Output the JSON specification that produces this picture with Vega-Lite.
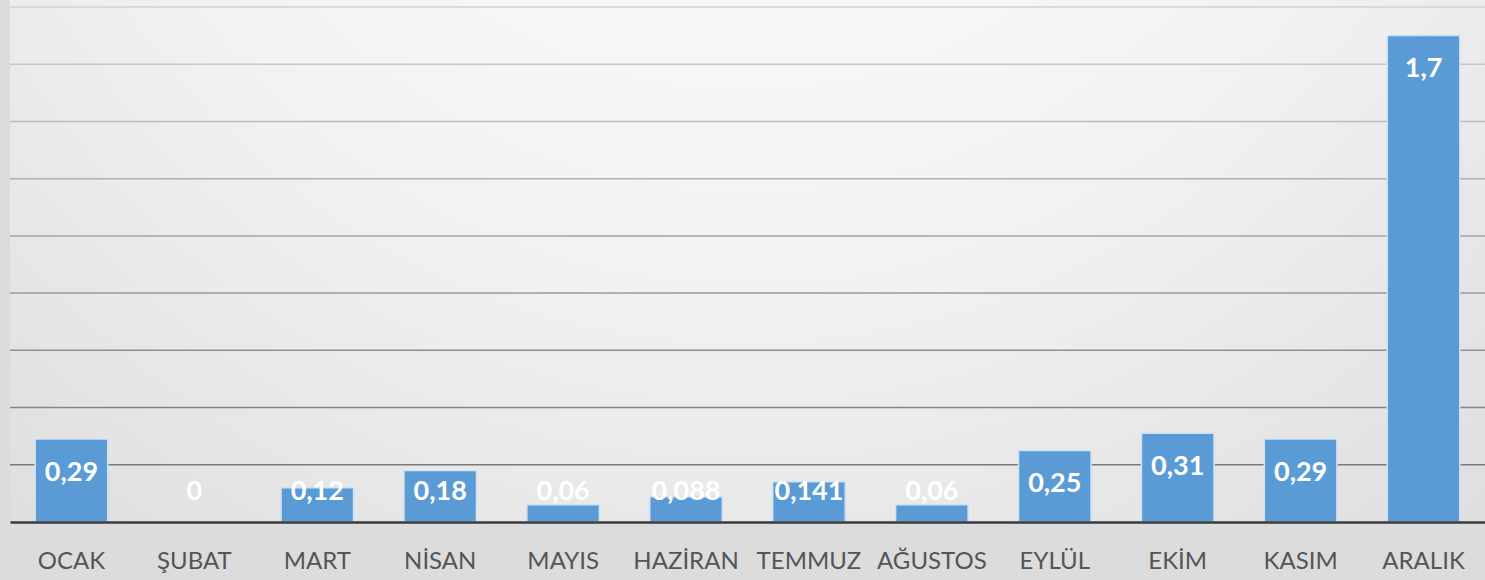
{
  "$schema": "https://vega.github.io/schema/vega-lite/v6.json",
  "width": 1475,
  "height": 522,
  "autosize": {"type": "none"},
  "padding": {"left": 10, "top": 0, "right": 0, "bottom": 58},
  "background": "#dcdcdc",
  "config": {"view": {"stroke": null}},
  "resolve": {"scale": {"color": "independent"}},
  "layer": [
    {
      "data": {"values": [{"bg": 1}]},
      "mark": {
        "type": "rect",
        "fill": {
          "gradient": "radial",
          "x1": 0.5, "y1": 0.05, "r1": 0.05,
          "x2": 0.5, "y2": 0.05, "r2": 0.95,
          "stops": [
            {"offset": 0, "color": "#ffffff"},
            {"offset": 0.45, "color": "#f2f2f2"},
            {"offset": 1, "color": "#d6d6d6"}
          ]
        }
      },
      "encoding": {}
    },
    {
      "data": {"values": [{"g": 0.2}, {"g": 0.4}, {"g": 0.6}, {"g": 0.8}, {"g": 1.0}, {"g": 1.2}, {"g": 1.4}, {"g": 1.6}, {"g": 1.8}]},
      "mark": {"type": "rule", "strokeWidth": 1.5},
      "encoding": {
        "y": {"field": "g", "type": "quantitative", "scale": {"domain": [0, 1.8245], "nice": false}, "axis": null},
        "color": {"field": "g", "type": "quantitative", "scale": {"domain": [0.2, 1.8], "range": ["#7a7a7a", "#d2d2d2"]}, "legend": null}
      }
    },
    {
      "data": {
        "values": [
          {"ay": "OCAK", "deger": 0.29, "etiket": "0,29"},
          {"ay": "ŞUBAT", "deger": 0, "etiket": "0"},
          {"ay": "MART", "deger": 0.12, "etiket": "0,12"},
          {"ay": "NİSAN", "deger": 0.18, "etiket": "0,18"},
          {"ay": "MAYIS", "deger": 0.06, "etiket": "0,06"},
          {"ay": "HAZİRAN", "deger": 0.088, "etiket": "0,088"},
          {"ay": "TEMMUZ", "deger": 0.141, "etiket": "0,141"},
          {"ay": "AĞUSTOS", "deger": 0.06, "etiket": "0,06"},
          {"ay": "EYLÜL", "deger": 0.25, "etiket": "0,25"},
          {"ay": "EKİM", "deger": 0.31, "etiket": "0,31"},
          {"ay": "KASIM", "deger": 0.29, "etiket": "0,29"},
          {"ay": "ARALIK", "deger": 1.7, "etiket": "1,7"}
        ]
      },
      "encoding": {
        "x": {
          "field": "ay",
          "type": "nominal",
          "sort": null,
          "scale": {"paddingInner": 0.41, "paddingOuter": 0.205},
          "axis": {
            "title": null,
            "labelAngle": 0,
            "labelFont": "Lato",
            "labelFontSize": 24,
            "labelColor": "#555555",
            "labelPadding": 39,
            "labelBaseline": "middle",
            "ticks": false,
            "domainColor": "#3a3a3a",
            "domainWidth": 2.5,
            "grid": false,
            "zindex": 1
          }
        }
      },
      "layer": [
        {
          "mark": {"type": "bar", "fill": "#5b9bd5", "stroke": "#cfe2f3", "strokeWidth": 1.5},
          "encoding": {
            "y": {
              "field": "deger",
              "type": "quantitative",
              "scale": {"domain": [0, 1.8245], "nice": false},
              "axis": null
            }
          }
        },
        {
          "transform": [{"calculate": "max(datum.deger - 0.117, 0.105)", "as": "etiketY"}],
          "mark": {"type": "text", "color": "#ffffff", "font": "Lato", "fontWeight": "bold", "fontSize": 27, "baseline": "middle"},
          "encoding": {
            "y": {"field": "etiketY", "type": "quantitative"},
            "text": {"field": "etiket"}
          }
        }
      ]
    }
  ]
}
